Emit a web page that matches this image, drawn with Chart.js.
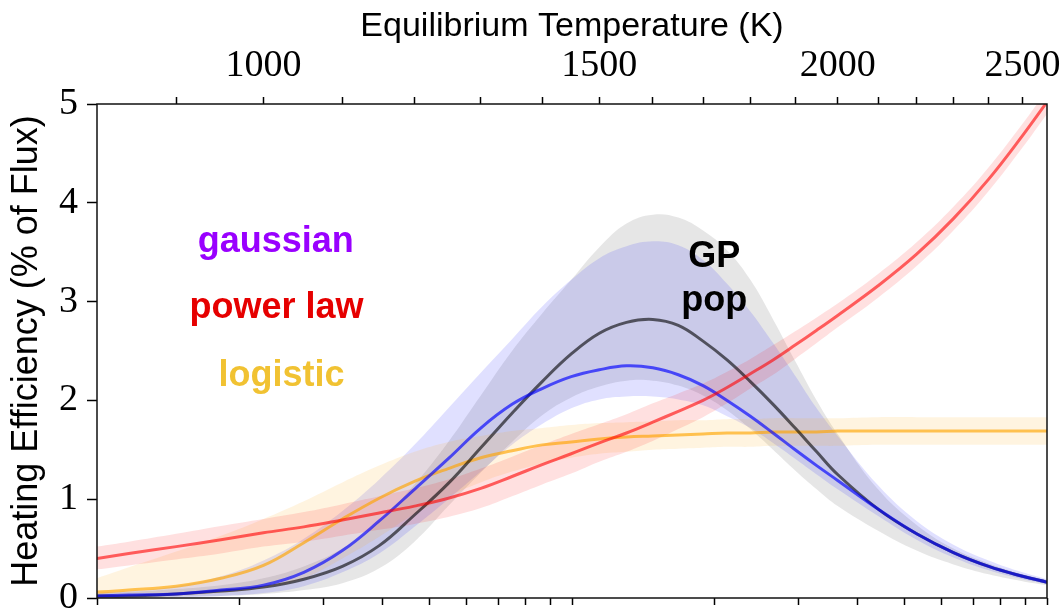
<!DOCTYPE html>
<html>
<head>
<meta charset="utf-8">
<script src="https://cdn.jsdelivr.net/npm/chart.js"></script>
<style>
  html, body { margin: 0; padding: 0; background: #fff; }
  #wrap { width: 1064px; height: 612px; }
</style>
</head>
<body>
<div id="wrap"><canvas id="effChart"></canvas></div>
<script>
// equilibrium temperature samples (K)
const temps = [818, 850, 900, 950, 1000, 1050, 1100, 1150, 1200, 1250, 1300, 1350, 1400, 1450, 1500, 1550, 1600, 1650, 1700, 1750, 1800, 1850, 1900, 1950, 2000, 2100, 2200, 2300, 2400, 2500, 2575];

// power law (red)
const powerLaw   = [0.40, 0.45, 0.52, 0.59, 0.66, 0.72, 0.79, 0.86, 0.93, 1.01, 1.11, 1.23, 1.35, 1.46, 1.57, 1.67, 1.78, 1.89, 2.00, 2.13, 2.27, 2.41, 2.56, 2.71, 2.86, 3.16, 3.48, 3.84, 4.24, 4.68, 5.02];
const powerLawHi = [0.52, 0.57, 0.65, 0.73, 0.80, 0.87, 0.95, 1.03, 1.11, 1.20, 1.31, 1.43, 1.55, 1.66, 1.76, 1.86, 1.97, 2.07, 2.17, 2.29, 2.42, 2.56, 2.70, 2.84, 2.98, 3.28, 3.60, 3.96, 4.36, 4.80, 5.14];
const powerLawLo = [0.29, 0.33, 0.39, 0.45, 0.52, 0.57, 0.63, 0.69, 0.75, 0.82, 0.91, 1.03, 1.15, 1.26, 1.38, 1.48, 1.59, 1.71, 1.83, 1.97, 2.12, 2.26, 2.42, 2.58, 2.74, 3.04, 3.36, 3.72, 4.12, 4.56, 4.90];

// logistic (orange)
const logistic   = [0.06, 0.08, 0.12, 0.20, 0.33, 0.56, 0.80, 1.01, 1.18, 1.31, 1.42, 1.49, 1.55, 1.58, 1.61, 1.63, 1.64, 1.65, 1.66, 1.67, 1.67, 1.68, 1.68, 1.68, 1.69, 1.69, 1.69, 1.69, 1.69, 1.69, 1.69];
const logisticHi = [0.20, 0.31, 0.47, 0.63, 0.80, 0.98, 1.17, 1.34, 1.48, 1.58, 1.64, 1.69, 1.72, 1.75, 1.77, 1.78, 1.79, 1.80, 1.80, 1.81, 1.81, 1.82, 1.82, 1.82, 1.82, 1.83, 1.83, 1.83, 1.83, 1.83, 1.83];
const logisticLo = [0.00, 0.01, 0.02, 0.05, 0.10, 0.20, 0.40, 0.62, 0.85, 1.03, 1.17, 1.28, 1.36, 1.42, 1.46, 1.48, 1.50, 1.51, 1.52, 1.53, 1.53, 1.54, 1.54, 1.54, 1.54, 1.55, 1.55, 1.55, 1.55, 1.55, 1.55];

// gaussian (blue)
const gaussian   = [0.02, 0.03, 0.04, 0.08, 0.13, 0.26, 0.48, 0.78, 1.10, 1.41, 1.72, 1.96, 2.12, 2.24, 2.31, 2.35, 2.33, 2.26, 2.15, 2.00, 1.84, 1.67, 1.50, 1.34, 1.19, 0.90, 0.65, 0.46, 0.32, 0.22, 0.16];
const gaussianHi = [0.05, 0.07, 0.12, 0.22, 0.38, 0.60, 0.88, 1.20, 1.55, 1.92, 2.28, 2.62, 2.95, 3.22, 3.44, 3.56, 3.61, 3.57, 3.42, 3.18, 2.90, 2.58, 2.25, 1.92, 1.64, 1.14, 0.78, 0.54, 0.38, 0.26, 0.19];
const gaussianLo = [0.00, 0.00, 0.01, 0.02, 0.05, 0.12, 0.26, 0.45, 0.72, 1.00, 1.28, 1.55, 1.76, 1.92, 2.01, 2.04, 2.04, 2.01, 1.95, 1.84, 1.72, 1.57, 1.41, 1.25, 1.10, 0.83, 0.59, 0.41, 0.28, 0.19, 0.14];

// GP population (black)
const gpPop   = [0.02, 0.02, 0.04, 0.07, 0.11, 0.19, 0.32, 0.53, 0.84, 1.16, 1.52, 1.87, 2.19, 2.47, 2.68, 2.79, 2.82, 2.76, 2.60, 2.41, 2.19, 1.96, 1.72, 1.48, 1.25, 0.90, 0.65, 0.46, 0.32, 0.22, 0.16];
const gpPopHi = [0.05, 0.06, 0.09, 0.13, 0.20, 0.32, 0.50, 0.78, 1.15, 1.58, 2.05, 2.50, 2.88, 3.22, 3.55, 3.79, 3.88, 3.85, 3.72, 3.52, 3.22, 2.82, 2.40, 2.00, 1.66, 1.10, 0.74, 0.50, 0.35, 0.24, 0.18];
const gpPopLo = [0.00, 0.00, 0.01, 0.02, 0.04, 0.08, 0.15, 0.30, 0.57, 0.93, 1.27, 1.58, 1.85, 2.03, 2.14, 2.20, 2.20, 2.15, 2.05, 1.90, 1.71, 1.50, 1.29, 1.10, 0.93, 0.68, 0.48, 0.34, 0.24, 0.17, 0.13];

// axis ticks
const tempTicks  = [900, 1000, 1100, 1200, 1300, 1400, 1500, 1600, 1700, 1800, 1900, 2000, 2100, 2200, 2300, 2400, 2500];
const tempLabels = [1000, 1500, 2000, 2500];
const fluxTicks  = [1, 2, 3, 4, 5, 6, 7, 8, 9, 10, 20, 30, 40, 50, 60, 70, 80, 90, 100];

// text labels placed in data coordinates (temperature, efficiency)
const noteText  = ['gaussian', 'power law', 'logistic', 'GP', 'pop'];
const noteTemp  = [1015, 1016, 1022, 1723, 1723];
const noteValue = [3.50, 2.83, 2.15, 3.35, 2.90];
const noteColor = ['#9900ff', '#e60000', '#f1c232', '#000000', '#000000'];

const pts = ys => temps.map((t, i) => ({ x: t, y: ys[i] }));

const line = (ys, color) => ({
  data: pts(ys), borderColor: color, borderWidth: 3, pointRadius: 0,
  fill: false, tension: 0.4
});
const bandTop = (ys, color) => ({
  data: pts(ys), borderColor: 'transparent', borderWidth: 0, pointRadius: 0,
  fill: '+1', backgroundColor: color, tension: 0.4
});
const bandBottom = ys => ({
  data: pts(ys), borderColor: 'transparent', borderWidth: 0, pointRadius: 0,
  fill: false, tension: 0.4
});

const notesPlugin = {
  id: 'notes',
  afterDatasetsDraw(chart) {
    const { ctx, scales: { x, y }, chartArea: a } = chart;
    ctx.save();
    // frame
    ctx.strokeStyle = '#111';
    ctx.lineWidth = 1.5;
    ctx.strokeRect(a.left, a.top, a.right - a.left, a.bottom - a.top);
    // labels
    ctx.font = 'bold 36px "Liberation Sans", Arial, sans-serif';
    ctx.textAlign = 'center';
    ctx.textBaseline = 'alphabetic';
    noteText.forEach((t, i) => {
      ctx.fillStyle = noteColor[i];
      ctx.fillText(t, x.getPixelForValue(noteTemp[i]), y.getPixelForValue(noteValue[i]));
    });
    ctx.restore();
  }
};

const ctx = document.getElementById('effChart').getContext('2d');
new Chart(ctx, {
  type: 'line',
  data: {
    datasets: [
      line(powerLaw, 'rgba(255,0,0,0.6)'),
      line(gaussian, 'rgba(0,0,255,0.65)'),
      line(gpPop, 'rgba(0,0,0,0.6)'),
      line(logistic, 'rgba(255,165,0,0.65)'),
      bandTop(powerLawHi, 'rgba(255,0,0,0.12)'),
      bandBottom(powerLawLo),
      bandTop(logisticHi, 'rgba(255,165,0,0.12)'),
      bandBottom(logisticLo),
      bandTop(gaussianHi, 'rgba(0,0,255,0.12)'),
      bandBottom(gaussianLo),
      bandTop(gpPopHi, 'rgba(128,128,128,0.2)'),
      bandBottom(gpPopLo)
    ]
  },
  options: {
    responsive: true,
    maintainAspectRatio: false,
    animation: false,
    layout: { padding: { left: 0, top: 0, right: 17, bottom: 0 } },
    plugins: {
      legend: { display: false },
      tooltip: { enabled: false },
      filler: { drawTime: 'beforeDatasetsDraw' }
    },
    scales: {
      x: {
        type: 'logarithmic',
        position: 'top',
        min: 818,
        max: 2575,
        afterBuildTicks: ax => { ax.ticks = tempTicks.map(v => ({ value: v })); },
        afterFit: s => { s.height = 104; s.paddingLeft = 0; s.paddingRight = 0; },
        ticks: {
          autoSkip: false,
          maxRotation: 0,
          padding: 8,
          color: '#000',
          font: { family: '"Liberation Serif", serif', size: 38 },
          callback: v => tempLabels.includes(v) ? String(v) : ''
        },
        grid: { drawOnChartArea: false, tickLength: 7, tickColor: '#000', tickWidth: 1.5 },
        border: { display: false },
        title: {
          display: true,
          text: 'Equilibrium Temperature (K)',
          color: '#000',
          font: { family: '"Liberation Sans", Arial, sans-serif', size: 34 },
          padding: { top: 6, bottom: 0 }
        }
      },
      flux: {
        type: 'logarithmic',
        position: 'bottom',
        min: 1,
        max: 100,
        afterBuildTicks: ax => { ax.ticks = fluxTicks.map(v => ({ value: v })); },
        afterFit: s => { s.height = 14; s.paddingLeft = 0; s.paddingRight = 0; },
        ticks: { display: false, autoSkip: false },
        grid: { drawOnChartArea: false, tickLength: 7, tickColor: '#000', tickWidth: 1.5 },
        border: { display: false }
      },
      y: {
        min: 0,
        max: 5,
        afterFit: s => { s.width = 97; s.paddingTop = 0; s.paddingBottom = 0; },
        ticks: {
          stepSize: 1,
          padding: 9,
          color: '#000',
          font: { family: '"Liberation Serif", serif', size: 38 }
        },
        grid: { drawOnChartArea: false, tickLength: 10, tickColor: '#000', tickWidth: 1.5 },
        border: { display: false },
        title: {
          display: true,
          text: 'Heating Efficiency (% of Flux)',
          color: '#000',
          font: { family: '"Liberation Sans", Arial, sans-serif', size: 36 },
          padding: { top: 5, bottom: 0 }
        }
      }
    }
  },
  plugins: [notesPlugin]
});
</script>
</body>
</html>
